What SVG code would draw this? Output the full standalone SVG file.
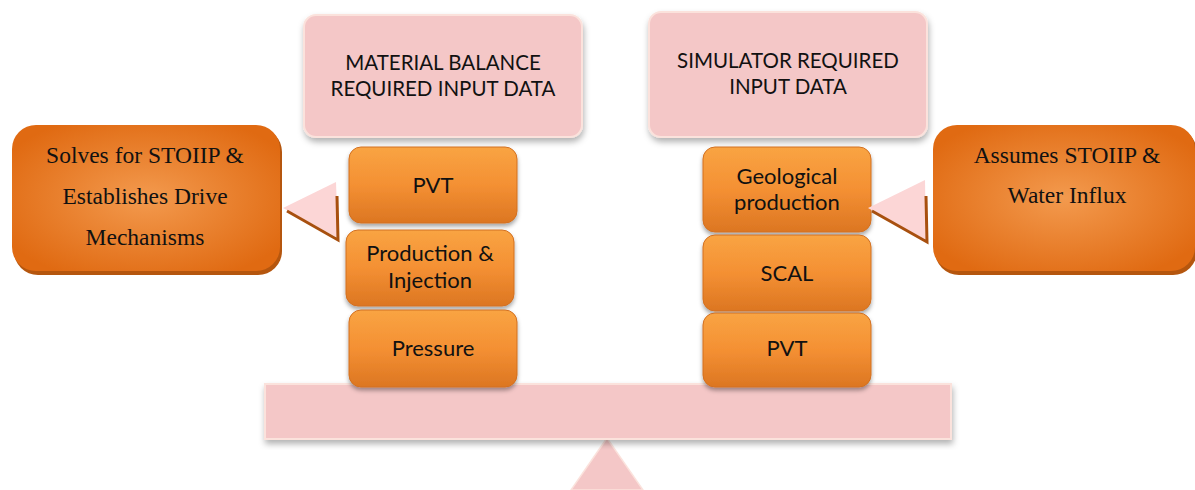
<svg xmlns="http://www.w3.org/2000/svg" width="1195" height="490" viewBox="0 0 1195 490">
<defs>
<linearGradient id="gBox" x1="0" y1="0" x2="0" y2="1">
<stop offset="0" stop-color="#f9a443"/>
<stop offset="0.5" stop-color="#f49033"/>
<stop offset="1" stop-color="#dc7622"/>
</linearGradient>
<radialGradient id="gCall" cx="0.5" cy="0.5" r="0.6">
<stop offset="0" stop-color="#f39a4e"/>
<stop offset="1" stop-color="#e06a12"/>
</radialGradient>
<filter id="shPink" x="-10%" y="-10%" width="120%" height="130%">
<feDropShadow dx="1" dy="4" stdDeviation="3" flood-color="#000" flood-opacity="0.3"/>
</filter>
<filter id="shBox" x="-10%" y="-10%" width="120%" height="130%">
<feDropShadow dx="0" dy="3" stdDeviation="2" flood-color="#000" flood-opacity="0.35"/>
</filter>
<style>
.pink{fill:#f4c7c7;stroke:#fbe2dc;stroke-width:2;filter:url(#shPink)}
.box{fill:url(#gBox);stroke:#d27020;stroke-width:1;filter:url(#shBox)}
.call{fill:url(#gCall)}
.tri{fill:#fcd6d6}
.triEdge{fill:none;stroke:#a8500f;stroke-width:3}
.t{font-family:Lato,"Open Sans","Liberation Sans",sans-serif;font-size:20.5px;fill:#111;text-anchor:middle}
.b{font-family:Lato,"Open Sans","Liberation Sans",sans-serif;font-size:22px;fill:#111;text-anchor:middle}
.s{font-family:"Liberation Serif","Times New Roman",serif;font-size:23.5px;fill:#111;text-anchor:middle}
</style>
</defs>

<g id="fulcrum">
<polygon points="607,438 571,490 643,490" fill="#f4c7c7" stroke="#fbe2dc" stroke-width="1.5"/>
</g>
<g id="beam">
<rect x="265" y="384" width="686" height="55" class="pink"/>
</g>

<g id="mb-header">
<rect x="304" y="15" width="278" height="122" rx="12" class="pink"/>
<text class="t" x="443" y="70">MATERIAL BALANCE</text>
<text class="t" x="443" y="96">REQUIRED INPUT DATA</text>
</g>
<g id="sim-header">
<rect x="649" y="12" width="278" height="125" rx="12" class="pink"/>
<text class="t" x="788" y="68">SIMULATOR REQUIRED</text>
<text class="t" x="788" y="94">INPUT DATA</text>
</g>

<g id="mb-pvt">
<rect x="349" y="147" width="168" height="76" rx="12" class="box"/>
<text class="b" x="433" y="193">PVT</text>
</g>
<g id="mb-production">
<rect x="346" y="230" width="168" height="76" rx="12" class="box"/>
<text class="b" x="430" y="261">Production &amp;</text>
<text class="b" x="430" y="288">Injection</text>
</g>
<g id="mb-pressure">
<rect x="349" y="310" width="168" height="77" rx="12" class="box"/>
<text class="b" x="433" y="356">Pressure</text>
</g>

<g id="sim-geological">
<rect x="703" y="147" width="168" height="85" rx="12" class="box"/>
<text class="b" x="787" y="184">Geological</text>
<text class="b" x="787" y="210">production</text>
</g>
<g id="sim-scal">
<rect x="703" y="235" width="168" height="76" rx="12" class="box"/>
<text class="b" x="787" y="281">SCAL</text>
</g>
<g id="sim-pvt">
<rect x="703" y="313" width="168" height="74" rx="12" class="box"/>
<text class="b" x="787" y="356">PVT</text>
</g>

<g id="callout-left">
<rect x="14" y="128" width="268" height="147" rx="24" fill="#b5560e"/>
<rect x="12" y="125" width="268" height="146" rx="24" class="call"/>
<text class="s" x="145" y="163">Solves for STOIIP &amp;</text>
<text class="s" x="145" y="204">Establishes Drive</text>
<text class="s" x="145" y="245">Mechanisms</text>
</g>
<g id="callout-right">
<rect x="935" y="128" width="262" height="147" rx="24" fill="#b5560e"/>
<rect x="933" y="125" width="262" height="146" rx="24" class="call"/>
<text class="s" x="1067" y="163">Assumes STOIIP &amp;</text>
<text class="s" x="1067" y="203">Water Influx</text>
</g>

<g id="connectors">
<polygon points="283,208 336,182 338,238" class="tri"/>
<polyline points="287,211 338,240 337,196" class="triEdge"/>
<polygon points="868,208 925,180 926,241" class="tri"/>
<polyline points="872,211 927,242 926,196" class="triEdge"/>
</g>
</svg>
